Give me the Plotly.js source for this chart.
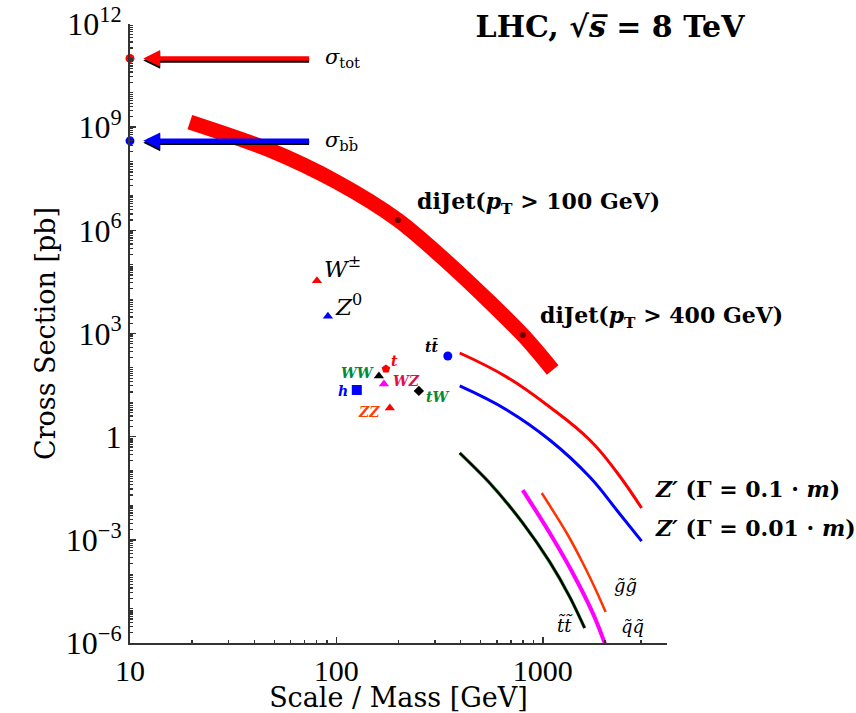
<!DOCTYPE html>
<html>
<head>
<meta charset="utf-8">
<script src="https://cdn.plot.ly/plotly-3.0.1.min.js"></script>
<style>html,body{margin:0;padding:0;background:#fff;}</style>
</head>
<body>
<div id="chart" style="width:856px;height:713px;"></div>
<script>
// ---- data ----
const refX = [10];
const sigmaTot = [1e11];
const sigmaBB = [4e8];
const arrowHeadX = 11.6;
const arrowTailX = 75;

const diJetX = [19.5, 47.6, 100.5, 198.6, 366, 800, 1117];
const diJetY = [1.41e9, 2.17e8, 2.55e7, 2.0e6, 8.6e4, 906, 87];
const diJetMarkX = [198.6, 800];
const diJetMarkY = [2.0e6, 906];

const procNames = ['W', 'Z', 'h', 'WW', 't', 'WZ', 'ZZ', 'tW', 'tt'];
const procX = [80.5, 91, 125.6, 160.7, 173.8, 170, 181.6, 251, 346.7];
const procY = [3.4e4, 3.2e3, 22.8, 58, 93, 34, 6.8, 21.4, 222];

const zpX = [396, 670, 1081, 1690, 2280, 3013];
const zp1Y = [271, 54, 7.3, 0.80, 0.094, 0.0084];
const zp01Y = [29.8, 5.97, 0.80, 0.067, 7.4e-3, 9.2e-4];

const stopX = [396, 553, 800, 1081, 1352, 1596];
const stopY = [0.335, 0.045, 3.09e-3, 2.27e-4, 2.18e-5, 2.73e-6];
const sqX = [800, 1081, 1397, 1746, 1995, 2100];
const sqY = [0.028, 1.58e-3, 1.09e-4, 7.5e-6, 1.0e-6, 4.0e-7];
const glX = [989, 1306, 1563, 1827, 2017];
const glY = [0.023, 1.58e-3, 2.12e-4, 3.05e-5, 8.0e-6];

const yTickVals = [1e-6, 1e-3, 1, 1e3, 1e6, 1e9, 1e12];
const yTickText = ['10<sup>−6</sup>', '10<sup>−3</sup>', '1', '10<sup>3</sup>', '10<sup>6</sup>', '10<sup>9</sup>', '10<sup>12</sup>'];
const xTickVals = [10, 100, 1000];
const xTickText = ['10', '100', '1000'];

// ---- helpers ----
const L = v => Math.log10(v);
const serif = 'DejaVu Serif';
const minorY = [];
for (let e = -6; e < 12; e++) for (let m = 1; m <= 9; m++) minorY.push(m * Math.pow(10, e));
const minorX = [];
for (let e = 1; e < 4; e++) for (let m = 2; m <= 9; m++) { const v = m * Math.pow(10, e); if (v < 4000) minorX.push(v); }

const idx = n => procNames.indexOf(n);
function pt(n, color, symbol, size) {
  const i = idx(n);
  return {x: [procX[i]], y: [procY[i]], mode: 'markers', type: 'scatter',
    marker: {color: color, symbol: symbol, size: size}, hoverinfo: 'skip'};
}
const sp = {shape: 'spline', smoothing: 0.8};
const spZ = {shape: 'spline', smoothing: 1.2};

const traces = [
  {x: diJetX, y: diJetY, mode: 'lines', type: 'scatter', line: Object.assign({color: '#ff0000', width: 15}, sp)},
  {x: diJetMarkX, y: diJetMarkY, mode: 'markers', type: 'scatter', marker: {color: '#6a0000', size: 6}},
  {x: zpX, y: zp1Y, mode: 'lines', type: 'scatter', line: Object.assign({color: '#ff0000', width: 3}, spZ)},
  {x: zpX, y: zp01Y, mode: 'lines', type: 'scatter', line: Object.assign({color: '#0000ff', width: 3}, spZ)},
  {x: stopX, y: stopY, mode: 'lines', type: 'scatter', line: Object.assign({color: '#3aa03a', width: 3.4}, sp)},
  {x: stopX, y: stopY, mode: 'lines', type: 'scatter', line: Object.assign({color: '#000000', width: 2.4}, sp)},
  {x: sqX, y: sqY, mode: 'lines', type: 'scatter', line: Object.assign({color: '#ff00ff', width: 4}, sp)},
  {x: glX, y: glY, mode: 'lines', type: 'scatter', line: Object.assign({color: '#ff3300', width: 2.5}, sp)},
  {x: refX, y: sigmaTot, mode: 'markers', type: 'scatter', marker: {color: '#ff0000', size: 9}, cliponaxis: false},
  {x: refX, y: sigmaBB, mode: 'markers', type: 'scatter', marker: {color: '#0000ff', size: 9}, cliponaxis: false},
  pt('W', '#ff0000', 'triangle-up', 9),
  pt('Z', '#0000ff', 'triangle-up', 9),
  pt('h', '#0000ff', 'square', 10),
  pt('WW', '#000000', 'triangle-up', 9),
  pt('t', '#ff0000', 'pentagon', 9),
  pt('WZ', '#ff00ff', 'triangle-up', 9),
  pt('ZZ', '#ff0000', 'triangle-up', 9),
  pt('tW', '#000000', 'diamond', 8),
  pt('tt', '#0000ff', 'circle', 9)
];

function lab(x, y, text, opts) {
  return Object.assign({x: L(x), y: L(y), xref: 'x', yref: 'y', text: text, showarrow: false,
    xanchor: 'left', yanchor: 'middle', font: {family: serif, size: 22, color: '#000'}}, opts || {});
}
function procLab(n, text, color, xs, ys, anchor) {
  const i = idx(n);
  return lab(procX[i], procY[i], text, {xshift: xs, yshift: ys, xanchor: anchor,
    font: {family: serif, size: 14, color: color}});
}
function arrow(y, color, shift) {
  return {x: L(arrowHeadX), y: L(y), ax: L(arrowTailX), ay: L(y), xref: 'x', yref: 'y', axref: 'x', ayref: 'y',
    text: '', showarrow: true, arrowhead: 2, arrowsize: 0.75, arrowwidth: 4.5, arrowcolor: color, yshift: shift};
}

const nZ = zpX.length - 1;
const annotations = [
  arrow(sigmaTot[0], '#000000', -2),
  arrow(sigmaTot[0], '#ff0000', 0),
  arrow(sigmaBB[0], '#000000', -2),
  arrow(sigmaBB[0], '#0000ff', 0),
  lab(arrowTailX, sigmaTot[0], '<i>σ</i><sub>tot</sub>', {xshift: 12, font: {family: serif, size: 21, color: '#000'}}),
  lab(arrowTailX, sigmaBB[0], '<i>σ</i><sub>bb̄</sub>', {xshift: 12, font: {family: serif, size: 21, color: '#000'}}),
  lab(diJetMarkX[0], diJetMarkY[0], '<b>diJet(<i>p</i><sub>T</sub> > 100 GeV)</b>', {xshift: 17, yshift: 17}),
  lab(diJetMarkX[1], diJetMarkY[1], '<b>diJet(<i>p</i><sub>T</sub> > 400 GeV)</b>', {xshift: 15, yshift: 18}),
  lab(zpX[nZ], zp1Y[nZ], '<b><i>Z′</i> (Γ = 0.1 · <i>m</i>)</b>', {xshift: 11, yshift: 19}),
  lab(zpX[nZ], zp01Y[nZ], '<b><i>Z′</i> (Γ = 0.01 · <i>m</i>)</b>', {xshift: 11, yshift: 13}),
  lab(glX[glX.length - 1], glY[glY.length - 1], '<i>g̃g̃</i>', {xanchor: 'center', xshift: 20, yshift: 26, font: {family: serif, size: 18, color: '#000'}}),
  lab(glX[glX.length - 1], glY[glY.length - 1], '<i>q̃q̃</i>', {xanchor: 'center', xshift: 27, yshift: -15, font: {family: serif, size: 18, color: '#000'}}),
  lab(stopX[stopX.length - 1], stopY[stopY.length - 1], '<i>t̃t̃</i>', {xanchor: 'center', xshift: -20, yshift: 3, font: {family: serif, size: 18, color: '#000'}}),
  lab(procX[idx('W')], procY[idx('W')], '<i>W</i><sup>±</sup>', {xshift: 5, yshift: 14, font: {family: serif, size: 23, color: '#000'}}),
  lab(procX[idx('Z')], procY[idx('Z')], '<i>Z</i><sup>0</sup>', {xshift: 5, yshift: 11, font: {family: serif, size: 23, color: '#000'}}),
  procLab('tt', '<b><i>tt̄</i></b>', '#000000', -16, 10, 'center'),
  procLab('t', '<b><i>t</i></b>', '#ff0000', 9, 8, 'center'),
  procLab('WW', '<b><i>WW</i></b>', '#008a3a', -21, 3, 'center'),
  procLab('WZ', '<b><i>WZ</i></b>', '#e0104a', 23, 3, 'center'),
  procLab('h', '<b><i>h</i></b>', '#0000ff', -14, -1, 'center'),
  procLab('tW', '<b><i>tW</i></b>', '#008a3a', 19, -6, 'center'),
  procLab('ZZ', '<b><i>ZZ</i></b>', '#ff4000', -21, -4, 'center')
];

const layout = {
  width: 856, height: 713,
  margin: {l: 130, r: 189, t: 24, b: 70, pad: 0},
  paper_bgcolor: '#fff', plot_bgcolor: '#fff',
  showlegend: false,
  title: {text: '<b>LHC, √<i>s̅</i> = 8 TeV</b>', x: 610 / 856, xref: 'container', xanchor: 'center',
    y: 1 - 26 / 713, yref: 'container', yanchor: 'middle', font: {family: serif, size: 30, color: '#000'}},
  xaxis: {type: 'log', range: [1, L(4000)], showgrid: false, zeroline: false,
    showline: true, linecolor: '#333', linewidth: 2, mirror: false,
    tickmode: 'array', tickvals: xTickVals, ticktext: xTickText, ticks: 'inside', ticklen: 6, tickcolor: '#333', tickwidth: 1.5,
    minor: {tickmode: 'array', tickvals: minorX, ticks: 'inside', ticklen: 3, tickcolor: '#333', tickwidth: 1.5, showgrid: false},
    tickfont: {family: 'Liberation Serif', size: 30, color: '#000'},
    title: {text: 'Scale / Mass [GeV]', font: {family: serif, size: 27, color: '#000'}, standoff: 0}},
  yaxis: {type: 'log', range: [-6, 12], showgrid: false, zeroline: false,
    showline: true, linecolor: '#333', linewidth: 2, mirror: false,
    tickmode: 'array', tickvals: yTickVals, ticktext: yTickText, ticks: 'inside', ticklen: 6, tickcolor: '#333', tickwidth: 1.5,
    minor: {tickmode: 'array', tickvals: minorY, ticks: 'inside', ticklen: 3, tickcolor: '#333', tickwidth: 1.2, showgrid: false},
    tickfont: {family: 'Liberation Serif', size: 32, color: '#000'},
    title: {text: 'Cross Section [pb]', font: {family: serif, size: 27, color: '#000'}, standoff: 2}},
  annotations: annotations
};

Plotly.newPlot('chart', traces, layout, {displayModeBar: false, staticPlot: true});
</script>
</body>
</html>
